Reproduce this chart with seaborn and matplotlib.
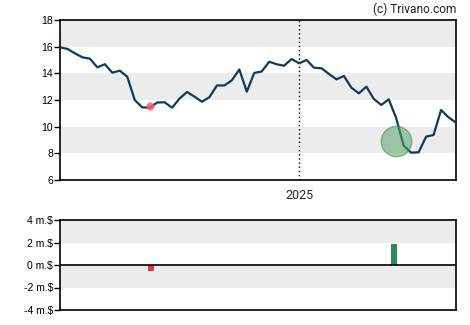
import matplotlib
matplotlib.use("Agg")
import matplotlib.pyplot as plt
import matplotlib.dates as mdates
import numpy as np
import pandas as pd
import seaborn as sns

# Weekly closing prices
start_date = "2024-05-22"
prices = [15.95, 15.83, 15.5, 15.2, 15.1, 14.45, 14.68, 14.05, 14.2, 13.75,
          12.0, 11.45, 11.42, 11.81, 11.83, 11.42, 12.11, 12.6, 12.25, 11.87,
          12.21, 13.09, 13.09, 13.48, 14.29, 12.62, 14.03, 14.14, 14.87, 14.68,
          14.57, 15.08, 14.75, 15.0, 14.42, 14.38, 13.95, 13.55, 13.8, 12.92,
          12.5, 13.0, 12.08, 11.63, 12.05, 10.63, 8.57, 8.05, 8.08, 9.25,
          9.38, 11.25, 10.7, 10.3]
dates = pd.date_range(start_date, periods=len(prices), freq="7D")

# Insider transactions (week index, value in million $)
sell_idx, sell_val = [12], [-0.5]
buy_idx, buy_val = [45], [1.85]
sell_mark = [11.55]
buy_mark = [8.93]

price_ticks = [6, 8, 10, 12, 14, 16, 18]
flow_ticks = [-4, -2, 0, 2, 4]
flow_labels = ["-4 m.$", "-2 m.$", "0 m.$", "2 m.$", "4 m.$"]
year_mark = pd.Timestamp("2025-01-01")

sns.set_style("white")
plt.rcParams["font.family"] = ["Liberation Sans", "DejaVu Sans"]

fig = plt.figure(figsize=(4.7, 3.25), dpi=100)
ax = fig.add_axes([60 / 470, 1 - 180 / 325, 396 / 470, 160 / 325])
ax2 = fig.add_axes([60 / 470, 1 - 310 / 325, 396 / 470, 90 / 325])

band = "#ececec"
for lo in (8, 12, 16):
    ax.axhspan(lo, lo + 2, color=band, lw=0, zorder=0)
for lo in (-2, 2):
    ax2.axhspan(lo, lo + 2, color=band, lw=0, zorder=0)

df = pd.DataFrame({"date": dates, "price": prices})
sns.lineplot(data=df, x="date", y="price", ax=ax, color="#0f3a5c", lw=1.6, zorder=3)

sdf = pd.DataFrame({"date": dates[sell_idx], "v": sell_mark})
bdf = pd.DataFrame({"date": dates[buy_idx], "v": buy_mark})
sns.scatterplot(data=sdf, x="date", y="v", ax=ax, s=28, color="#f0606e",
                edgecolor="#f0606e", alpha=0.85, zorder=4, legend=False)
sns.scatterplot(data=bdf, x="date", y="v", ax=ax, s=480, color="#5aa46a",
                edgecolor="#3d8a50", linewidth=1, alpha=0.55, zorder=4, legend=False)

ax.axvline(year_mark, color="black", ls=(0, (1, 2)), lw=1, zorder=2)

ax.set_xlim(dates[0], dates[-1])
ax.set_ylim(6, 18)
ax.set_yticks(price_ticks)
ax.set_yticklabels([str(t) for t in price_ticks])
ax.set_xticks([year_mark])
ax.set_xticklabels(["2025"], fontsize=9, family=["Roboto", "DejaVu Sans"])
ax.set_xlabel("")
ax.set_ylabel("")

bar_w = 5.2
ax2.bar(mdates.date2num(dates[sell_idx]) + 1, sell_val, width=bar_w, color="#ee3340",
        lw=0, zorder=3)
ax2.bar(mdates.date2num(dates[buy_idx]) - 2, buy_val, width=bar_w, color="#2e8b57",
        lw=0, zorder=3)
ax2.axhline(0, color="black", lw=1.2, zorder=4)
ax2.set_xlim(mdates.date2num(dates[0]), mdates.date2num(dates[-1]))
ax2.set_ylim(-4, 4)
ax2.set_yticks(flow_ticks)
ax2.set_yticklabels(flow_labels)
ax2.set_xticks([])

for a in (ax, ax2):
    for s in a.spines.values():
        s.set_visible(True)
        s.set_color("black")
        s.set_linewidth(1.2)
    a.tick_params(axis="y", which="both", left=True, length=4, width=1,
                  labelsize=7.5, pad=1, colors="black")
    a.tick_params(axis="x", bottom=False, pad=3)

fig.text(456 / 470, 1 - 9 / 325, "(c) Trivano.com", ha="right", va="center",
         fontsize=8.6, color="#222222", family=["Roboto", "DejaVu Sans"])

fig.savefig("out.png", dpi=100)
